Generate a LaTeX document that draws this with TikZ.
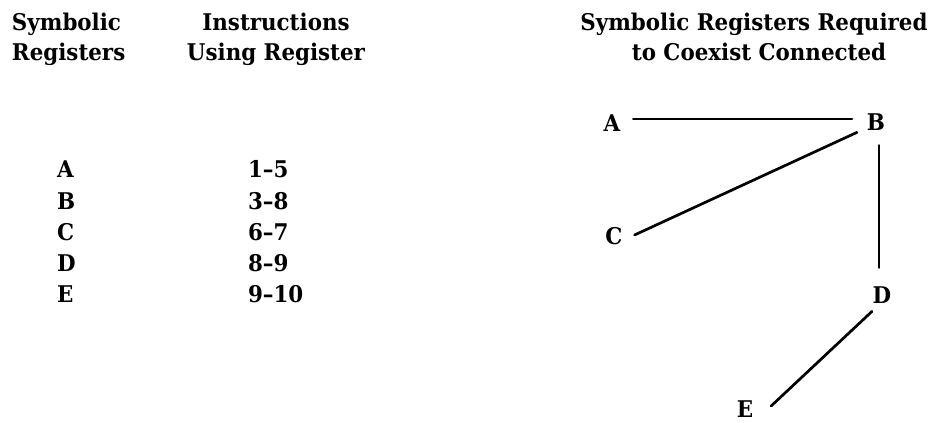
\documentclass[tikz,border=0pt]{standalone}
\usepackage{fontspec}
\setmainfont[FakeStretch=0.93]{DejaVu Serif}
\begin{document}
\begin{tikzpicture}[x=1pt,y=-1pt,
  every node/.style={font=\fontsize{23}{30}\selectfont\bfseries, inner sep=0pt, outer sep=0pt},
  head/.style={anchor=base},
  lefttext/.style={anchor=base west},
  vertex/.style={anchor=center},
  edge/.style={line width=2.7pt, line cap=round}]
\useasboundingbox (0,0) rectangle (940,423);

% column headings
\node[lefttext] (h1a) at (12,30) {Symbolic};
\node[lefttext] (h1b) at (12,60) {Registers};
\node[head] (h2a) at (276,30) {Instructions};
\node[head] (h2b) at (276,60) {Using Register};
\node[head] (h3a) at (754,30) {Symbolic Registers Required};
\node[head] (h3b) at (759,60) {to Coexist Connected};

% register table
\node[lefttext] (ra) at (57,177) {A};
\node[lefttext] (rb) at (57,209) {B};
\node[lefttext] (rc) at (57,240) {C};
\node[lefttext] (rd) at (57,271) {D};
\node[lefttext] (re) at (57,302) {E};
\node[lefttext] (ia) at (248,177) {1–5};
\node[lefttext] (ib) at (248,209) {3–8};
\node[lefttext] (ic) at (248,240) {6–7};
\node[lefttext] (id) at (248,271) {8–9};
\node[lefttext] (ie) at (248,302) {9–10};

% interference graph
\node[vertex] (A) at (612,123) {A};
\node[vertex] (B) at (876,122) {B};
\node[vertex] (C) at (614,236) {C};
\node[vertex] (D) at (882,295) {D};
\node[vertex] (E) at (745,409) {E};

\draw[edge] ([shift={(13,-4)}]A.east) -- ([shift={(-15,-3)}]B.west);
\draw[edge] ([shift={(-10,2)}]B.south west) -- ([shift={(12,-1)}]C.east);
\draw[edge] ([shift={(3,15)}]B.south) -- ([shift={(-3,-19)}]D.north);
\draw[edge] ([shift={(-10,8)}]D.south) -- ([shift={(18,-3)}]E.east);
\end{tikzpicture}
\end{document}
